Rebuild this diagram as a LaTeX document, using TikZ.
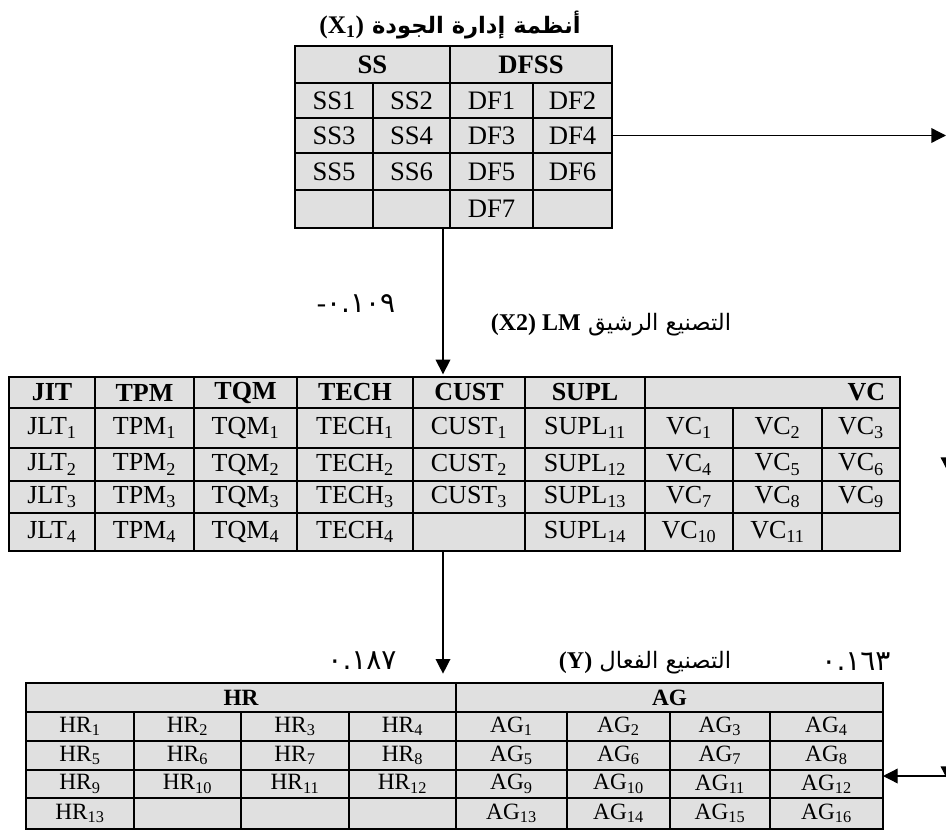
\documentclass[tikz,border=0pt]{standalone}
\usepackage{fontspec}
\setmainfont{Liberation Serif}
\newfontfamily\arabicfont[Script=Arabic]{DejaVu Sans}
\TeXXeTstate=1
\usetikzlibrary{arrows.meta, positioning, calc}
\definecolor{cellgray}{RGB}{224,224,224}

% one table cell: [style]{name}{x1}{x2}{y1}{y2}{text}, coordinates in pixels
\newcommand{\tcell}[7][cell]{%
  \node[#1, minimum width={(#4-#3)*0.75pt}, minimum height={(#6-#5)*0.75pt}]
    (#2) at ({(#3+#4)/2},{(#5+#6)/2}) {#7};}

\begin{document}
\begin{tikzpicture}[x=0.75pt, y=-0.75pt,
    cell/.style={draw, line width=1.4pt, fill=cellgray, inner sep=0pt, outer sep=0pt,
                 font=\fontsize{19.5}{22}\selectfont},
    head/.style={cell, font=\fontsize{19.5}{22}\selectfont\bfseries},
    qcell/.style={cell, font=\fontsize{20}{22}\selectfont},
    qhead/.style={cell, font=\fontsize{20}{22}\selectfont\bfseries},
    ecell/.style={cell, font=\fontsize{17.5}{20}\selectfont},
    ehead/.style={cell, font=\fontsize{17.5}{20}\selectfont\bfseries},
    ttl/.style={inner sep=1pt, font=\fontsize{17}{21}\selectfont},
    lbl/.style={inner sep=1pt, font=\fontsize{21}{24}\selectfont\arabicfont},
    arr/.style={-{Triangle[length=11pt, width=11pt]}, line width=1pt}]
\useasboundingbox (0,0) rectangle (946,831);

% quality management systems (X1)
\tcell[qhead]{ss}{295}{450}{46}{83}{SS}
\tcell[qhead]{dfss}{450}{612}{46}{83}{DFSS}
\foreach \ya/\yb/\a/\b/\c/\d [count=\r] in
    {83/118/SS1/SS2/DF1/DF2, 118/153/SS3/SS4/DF3/DF4,
     153/190/SS5/SS6/DF5/DF6, 190/228/{}/{}/DF7/{}} {
  \tcell[qcell]{q\r1}{295}{373}{\ya}{\yb}{\a}
  \tcell[qcell]{q\r2}{373}{450}{\ya}{\yb}{\b}
  \tcell[qcell]{q\r3}{450}{533}{\ya}{\yb}{\c}
  \tcell[qcell]{q\r4}{533}{612}{\ya}{\yb}{\d}
}
\node[ttl, above=4pt of ss.north east] (qmst)
  {\arabicfont\bfseries\beginR أنظمة إدارة الجودة \beginL\rmfamily\bfseries\fontsize{19}{23}\selectfont(X\textsubscript{1})\endL\endR};

% lean manufacturing (X2)
\tcell[head]{jit}{9}{95}{377}{408}{JIT}
\tcell[head]{tpm}{95}{194}{377}{408}{TPM}
\tcell[head]{tqm}{194}{297}{377}{408}{TQM}
\tcell[head]{tech}{297}{413}{377}{408}{TECH}
\tcell[head]{cust}{413}{525}{377}{408}{CUST}
\tcell[head]{supl}{525}{645}{377}{408}{SUPL}
\tcell[head]{vc}{645}{900}{377}{408}{}
\node[anchor=east, inner sep=0pt, font=\fontsize{19.5}{22}\selectfont\bfseries]
  (vctxt) at ([xshift=-11pt]vc.east) {VC};
\foreach \ya/\yb [count=\n] in {408/448, 448/481, 481/513} {
  \pgfmathtruncatemacro{\vca}{3*\n-2}
  \pgfmathtruncatemacro{\vcb}{3*\n-1}
  \pgfmathtruncatemacro{\vcc}{3*\n}
  \tcell{jit\n}{9}{95}{\ya}{\yb}{JLT\textsubscript{\n}}
  \tcell{tpm\n}{95}{194}{\ya}{\yb}{TPM\textsubscript{\n}}
  \tcell{tqm\n}{194}{297}{\ya}{\yb}{TQM\textsubscript{\n}}
  \tcell{tech\n}{297}{413}{\ya}{\yb}{TECH\textsubscript{\n}}
  \tcell{cust\n}{413}{525}{\ya}{\yb}{CUST\textsubscript{\n}}
  \tcell{supl\n}{525}{645}{\ya}{\yb}{SUPL\textsubscript{1\n}}
  \tcell{vc\vca}{645}{733}{\ya}{\yb}{VC\textsubscript{\vca}}
  \tcell{vc\vcb}{733}{822}{\ya}{\yb}{VC\textsubscript{\vcb}}
  \tcell{vc\vcc}{822}{900}{\ya}{\yb}{VC\textsubscript{\vcc}}
}
\tcell{jit4}{9}{95}{513}{551}{JLT\textsubscript{4}}
\tcell{tpm4}{95}{194}{513}{551}{TPM\textsubscript{4}}
\tcell{tqm4}{194}{297}{513}{551}{TQM\textsubscript{4}}
\tcell{tech4}{297}{413}{513}{551}{TECH\textsubscript{4}}
\tcell{cust4}{413}{525}{513}{551}{}
\tcell{supl4}{525}{645}{513}{551}{SUPL\textsubscript{14}}
\tcell{vc10}{645}{733}{513}{551}{VC\textsubscript{10}}
\tcell{vc11}{733}{822}{513}{551}{VC\textsubscript{11}}
\tcell{vc12}{822}{900}{513}{551}{}
\node[ttl] (lmt) at (611,325)
  {\arabicfont\beginR التصنيع الرشيق \beginL\rmfamily\bfseries\fontsize{18}{22}\selectfont(X2) LM\endL\endR};

% effective manufacturing (Y)
\tcell[ehead]{hr}{26}{456}{683}{712}{HR}
\tcell[ehead]{ag}{456}{883}{683}{712}{AG}
\foreach \ya/\yb [count=\n] in {712/741, 741/770, 770/798, 798/829} {
  \foreach \xa/\xb [count=\c] in {26/134, 134/241, 241/349, 349/456} {
    \pgfmathtruncatemacro{\cnt}{4*(\n-1)+\c}
    \ifnum\cnt<14 \tcell[ecell]{hr\cnt}{\xa}{\xb}{\ya}{\yb}{HR\textsubscript{\cnt}}
    \else \tcell[ecell]{hr\cnt}{\xa}{\xb}{\ya}{\yb}{}\fi
  }
  \foreach \xa/\xb [count=\c] in {456/567, 567/670, 670/770, 770/883} {
    \pgfmathtruncatemacro{\cnt}{4*(\n-1)+\c}
    \tcell[ecell]{ag\cnt}{\xa}{\xb}{\ya}{\yb}{AG\textsubscript{\cnt}}
  }
}
\node[ttl] (emt) at (645,663)
  {\arabicfont\beginR التصنيع الفعال \beginL\rmfamily\bfseries\fontsize{18}{22}\selectfont(Y)\endL\endR};

% connectors and coefficients
\coordinate (qout) at ([xshift=-5.25pt]q42.south east);
\coordinate (lout) at (qout |- cust4.south);
\draw[arr, shorten >=2pt] (qout) -- (qout |- cust.north);
\draw[arr, shorten >=7pt] (lout) -- (lout |- hr.north);
\coordinate (outr) at (946,133);
\draw[arr] (q24.east -| q24.east) -- (q24.east -| outr);
\coordinate (rv1a) at (948,420);
\coordinate (rv1b) at (948,472);
\draw[arr] (rv1a) -- (rv1b);
\coordinate (rv2a) at (948,740);
\coordinate (rv2b) at (948,781);
\coordinate (rc) at (948,776);
\draw[arr] (rv2a) -- (rv2b);
\draw[arr] (rc) -- (rc -| ag12.east);

\node[lbl] (b1) at (356,304) {{\rmfamily -}٠.١٠٩};
\node[lbl] (b2) at (362,661) {٠.١٨٧};
\node[lbl] (b3) at (856,662) {٠.١٦٣};
\end{tikzpicture}
\end{document}
